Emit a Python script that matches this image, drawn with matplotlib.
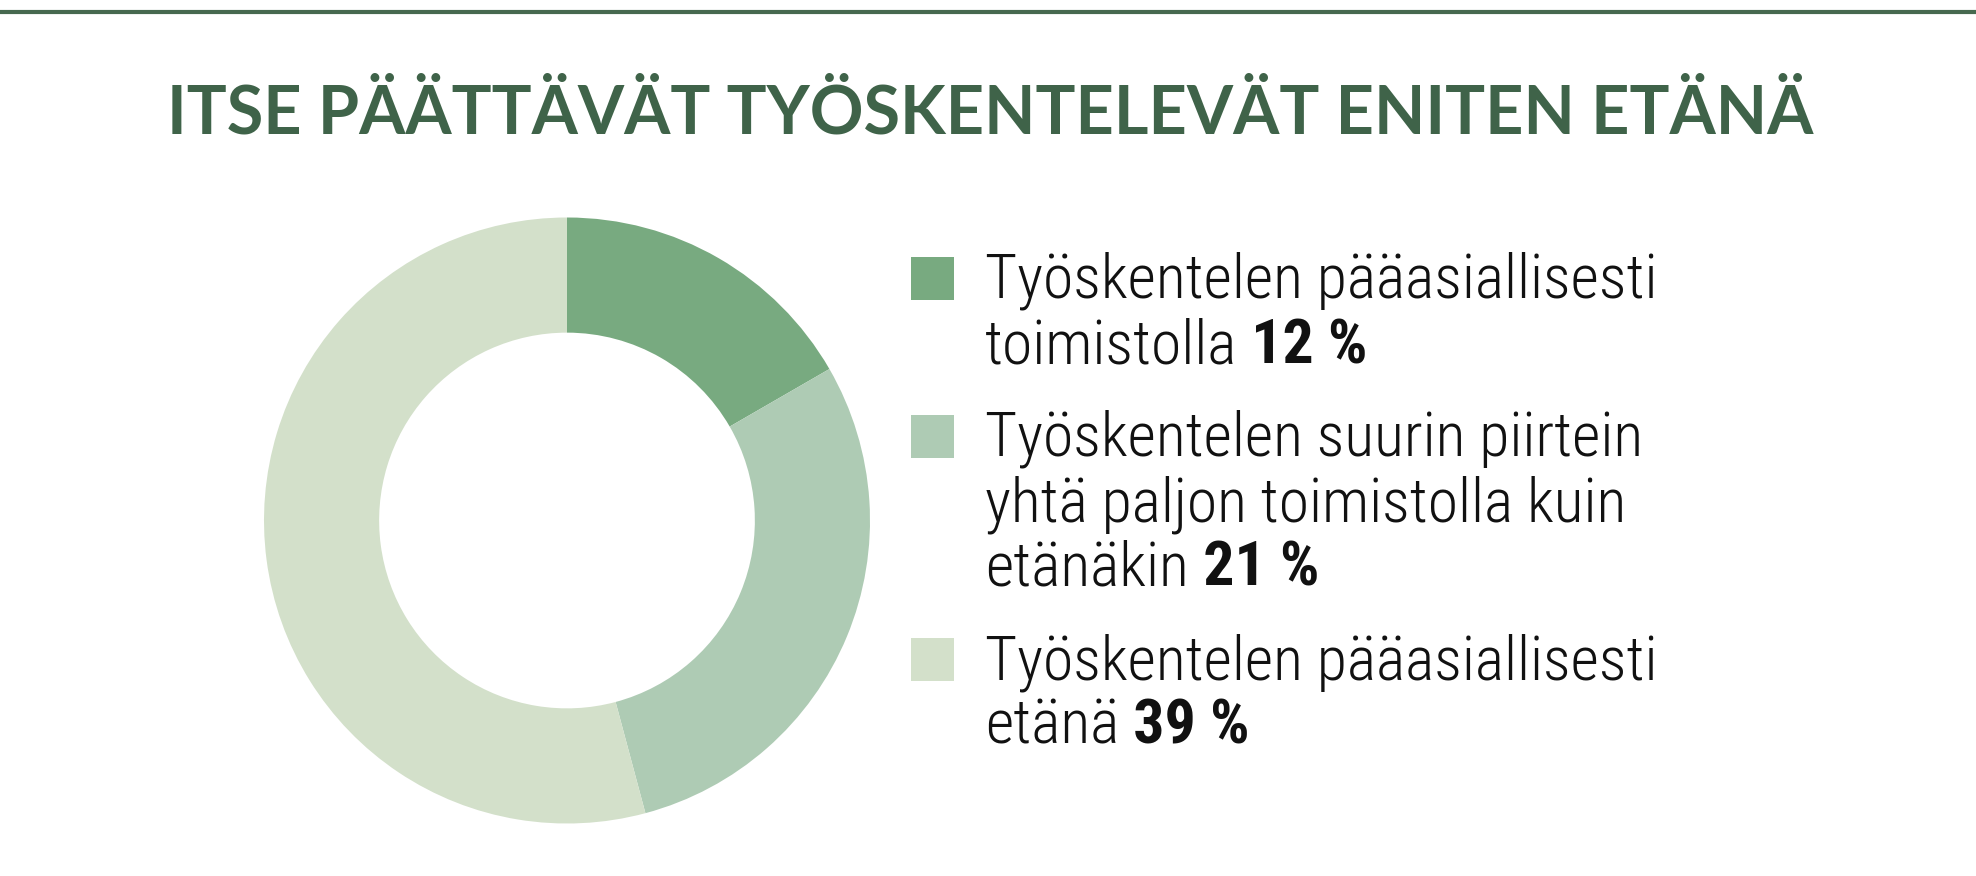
import matplotlib
matplotlib.use("Agg")
import matplotlib.pyplot as plt
from matplotlib.patches import Rectangle

# data
title = "ITSE PÄÄTTÄVÄT TYÖSKENTELEVÄT ENITEN ETÄNÄ"
labels = [
    "Työskentelen pääasiallisesti\ntoimistolla",
    "Työskentelen suurin piirtein\nyhtä paljon toimistolla kuin\netänäkin",
    "Työskentelen pääasiallisesti\netänä",
]
values = [12, 21, 39]
value_texts = ["12 %", "21 %", "39 %"]
colors = ["#78aa80", "#aecbb4", "#d3e0ca"]

W, H = 1976, 876
green = "#3f6349"
body_font = ["Roboto Condensed", "DejaVu Sans"]

fig = plt.figure(figsize=(W / 100, H / 100), dpi=100)
fig.patch.set_facecolor("white")

# overlay axes in pixel units, y measured from the top
ax = fig.add_axes([0, 0, 1, 1])
ax.set_xlim(0, W)
ax.set_ylim(H, 0)
ax.axis("off")

# top rule
ax.plot([0, W], [12.3, 12.3], color="#46694f", lw=3, solid_capstyle="butt")

ax.text(990, 133, title, ha="center", va="baseline", fontsize=48,
        fontweight="bold", color=green, family=["Lato", "DejaVu Sans"])

# donut
cx, cy, r = 567, 520.5, 303
pax = fig.add_axes([(cx - r) / W, (H - cy - r) / H, 2 * r / W, 2 * r / H])
pax.pie(values, colors=colors, startangle=90, counterclock=False,
        wedgeprops=dict(width=0.38, edgecolor="none", linewidth=0))
pax.set_xlim(-1, 1)
pax.set_ylim(-1, 1)
pax.set_aspect("equal")
pax.axis("off")

# legend
fs = 44.5
y = 298
for lab, vt, col in zip(labels, value_texts, colors):
    ax.add_patch(Rectangle((911, y - 41), 43, 43, color=col, lw=0))
    lines = lab.split("\n")
    for i, line in enumerate(lines):
        t = ax.text(985, y, line, ha="left", va="baseline", fontsize=fs,
                    fontweight=300, color="#111111", family=body_font)
        if i == len(lines) - 1:
            ax.annotate(" " + vt, xy=(1, 0), xycoords=t, ha="left", va="bottom",
                        fontsize=fs, fontweight="bold", color="#111111",
                        family=body_font)
            y += 93
        else:
            y += 65

fig.savefig("out.png", dpi=100)
